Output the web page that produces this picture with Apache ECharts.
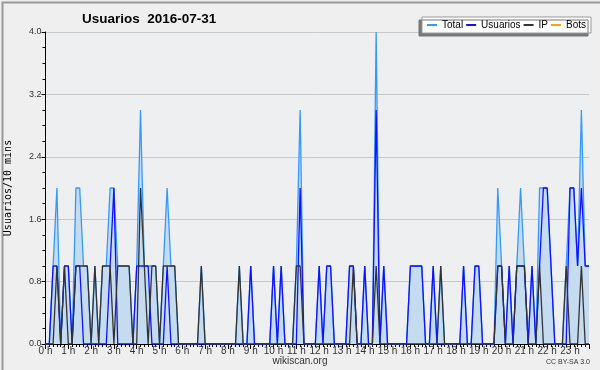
<!DOCTYPE html>
<html>
<head>
<meta charset="utf-8">
<script src="https://cdn.jsdelivr.net/npm/echarts@6/dist/echarts.min.js"></script>
<style>
  html, body { margin: 0; padding: 0; background: #efefef; }
  #chart { width: 600px; height: 370px; }
</style>
</head>
<body>
<div id="chart"></div>
<script>
  // 10-minute slots, 0 = 00:00 ... 143 = 23:50
  const total = [
    0,0,1,2,0,1,1,0,2,2,1,1,
    0,1,0,1,1,2,2,1,1,1,1,0,
    1,3,1,1,1,1,0,1,2,1,1,0,
    0,0,0,0,0,1,0,0,0,0,0,0,
    0,0,0,1,0,0,1,0,0,0,0,0,
    1,0,1,0,0,0,1,3,0,0,0,0,
    1,0,1,1,0,0,0,0,1,1,0,0,
    1,0,0,4,0,1,0,0,0,0,0,0,
    1,1,1,1,0,0,1,0,1,0,0,0,
    0,0,1,0,0,1,1,0,0,0,0,2,
    1,0,1,0,1,2,1,0,1,0,2,2,
    2,1,0,0,0,1,2,2,1,3,1,1
  ];
  const usuarios = [
    0,0,1,1,0,1,1,0,1,1,0,0,
    0,0,0,0,0,1,2,0,0,0,0,0,
    1,1,1,1,0,0,0,0,1,0,0,0,
    0,0,0,0,0,0,0,0,0,0,0,0,
    0,0,0,0,0,0,1,0,0,0,0,0,
    1,0,1,0,0,0,0,2,0,0,0,0,
    1,0,1,1,0,0,0,0,1,1,0,0,
    1,0,0,3,0,1,0,0,0,0,0,0,
    1,1,1,1,0,0,1,0,0,0,0,0,
    0,0,1,0,0,1,1,0,0,0,0,1,
    1,0,1,0,1,1,1,0,1,0,1,2,
    2,1,0,0,0,0,2,2,1,2,1,1
  ];
  const ip = [
    0,0,0,1,0,1,0,0,1,1,1,1,
    0,1,0,1,1,1,0,1,1,1,1,0,
    0,2,1,0,1,1,0,1,1,1,1,0,
    0,0,0,0,0,1,0,0,0,0,0,0,
    0,0,0,1,0,0,0,0,0,0,0,0,
    0,0,0,0,0,0,1,1,0,0,0,0,
    0,0,0,0,0,0,0,0,0,1,0,0,
    0,0,0,1,0,0,0,0,0,0,0,0,
    0,0,0,0,0,0,0,0,1,0,0,0,
    0,0,0,0,0,0,0,0,0,0,0,1,
    1,0,0,0,1,1,1,0,0,0,1,0,
    0,0,0,0,0,1,0,0,0,1,0,0
  ];
  const bots = [];
  const yTicks = [0, 0.8, 1.6, 2.4, 3.2, 4.0];

  const pairs = (arr) => arr.map((v, i) => [i, v]);

  const chart = echarts.init(document.getElementById('chart'), null, {renderer: 'canvas'});
  const font = 'Liberation Sans';

  const options = {
    backgroundColor: '#efefef',
    animation: false,
    title: {
      text: 'Usuarios  2016-07-31',
      left: 77,
      top: 7,
      textStyle: {fontFamily: font, fontSize: 13.5, fontWeight: 'bold', color: '#000'}
    },
    legend: {
      left: 422,
      top: 17,
      width: 180,
      padding: [3, 5, 3, 5],
      itemGap: 3,
      itemWidth: 10,
      itemHeight: 2,
      icon: 'rect',
      backgroundColor: '#fff',
      borderColor: '#999',
      borderWidth: 1,
      borderRadius: 0,
      shadowColor: '#777',
      shadowBlur: 0,
      shadowOffsetX: -3,
      shadowOffsetY: 3,
      textStyle: {fontFamily: font, fontSize: 10, color: '#000'},
      data: ['Total', 'Usuarios', 'IP', 'Bots']
    },
    grid: {
      left: 45.5,
      right: 11,
      top: 32,
      bottom: 26,
      containLabel: false,
      outerBoundsMode: 'none',
      show: true,
      backgroundColor: '#edeff1',
      borderWidth: 0
    },
    xAxis: {
      type: 'value',
      min: 0,
      max: 143,
      interval: 6,
      axisLine: {lineStyle: {color: '#000', width: 1}},
      axisTick: {length: 5, lineStyle: {color: '#000'}},
      minorTick: {show: true, splitNumber: 6, length: 3, lineStyle: {color: '#000'}},
      splitLine: {show: false},
      axisLabel: {
        fontFamily: font, fontSize: 10, color: '#333', margin: 2,
        showMaxLabel: false,
        formatter: (v) => (v / 6) + ' h'
      }
    },
    yAxis: {
      type: 'value',
      min: yTicks[0],
      max: yTicks[yTicks.length - 1],
      interval: 0.8,
      name: 'Usuarios/10 mins',
      nameLocation: 'middle',
      nameGap: 32,
      nameTextStyle: {fontFamily: 'DejaVu Sans Mono', fontSize: 10, color: '#000'},
      axisLine: {show: true, lineStyle: {color: '#000', width: 1}},
      axisTick: {length: 4, lineStyle: {color: '#000'}},
      minorTick: {show: true, splitNumber: 4, length: 3, lineStyle: {color: '#000'}},
      splitLine: {lineStyle: {color: '#c8c8c8', width: 1}},
      axisLabel: {
        fontFamily: font, fontSize: 9, color: '#333', margin: 4,
        formatter: (v) => v.toFixed(1)
      }
    },
    graphic: [
      {type: 'text', left: 'center', top: 356,
        style: {text: 'wikiscan.org', font: '10px Liberation Sans', fill: '#333'}},
      {type: 'text', right: 10, top: 359,
        style: {text: 'CC BY-SA 3.0', font: '7px Liberation Sans', fill: '#333'}},
      {type: 'rect', left: 0, top: 0, shape: {width: 599, height: 369},
        style: {fill: 'none', stroke: '#999', lineWidth: 2}}
    ],
    series: [
      {
        name: 'Total', type: 'line', data: pairs(total), showSymbol: false,
        lineStyle: {color: '#3399ff', width: 1.3},
        itemStyle: {color: '#3399ff'},
        areaStyle: {color: '#c5dcf0', opacity: 1}
      },
      {
        name: 'Usuarios', type: 'line', data: pairs(usuarios), showSymbol: false,
        lineStyle: {color: '#1010ff', width: 1.3},
        itemStyle: {color: '#1010ff'}
      },
      {
        name: 'IP', type: 'line', data: pairs(ip), showSymbol: false,
        lineStyle: {color: '#333', width: 1.3},
        itemStyle: {color: '#333'}
      },
      {
        name: 'Bots', type: 'line', data: pairs(bots), showSymbol: false,
        lineStyle: {color: '#ffa500', width: 1.3},
        itemStyle: {color: '#ffa500'}
      }
    ]
  };
  chart.setOption(options);
</script>
</body>
</html>
